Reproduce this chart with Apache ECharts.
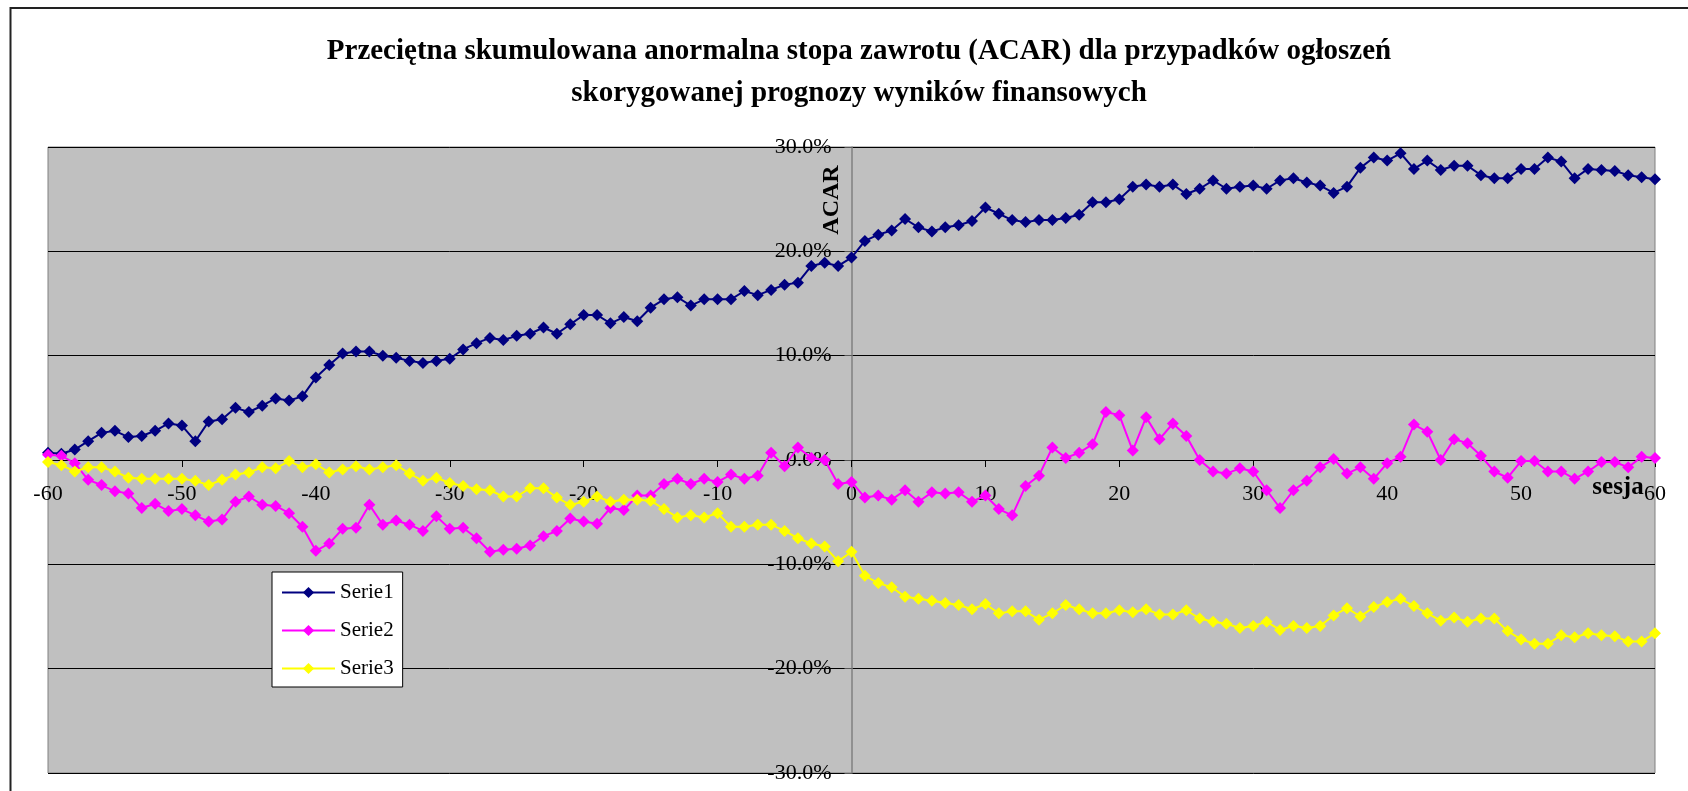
<!DOCTYPE html>
<html>
<head>
<meta charset="utf-8">
<script src="https://cdn.jsdelivr.net/npm/echarts@6/dist/echarts.min.js"></script>
<style>
    html, body { margin: 0; padding: 0; background: #fff; }
    #acar-chart-container { width: 1688px; height: 791px; }
</style>
</head>
<body>
<div id="acar-chart-container"></div>
<script>
// sesja (event day)
var sessions = [
    -60, -59, -58, -57, -56, -55, -54, -53, -52, -51, -50, -49, -48, -47, -46, -45, -44, -43, -42, -41,
    -40, -39, -38, -37, -36, -35, -34, -33, -32, -31, -30, -29, -28, -27, -26, -25, -24, -23, -22, -21,
    -20, -19, -18, -17, -16, -15, -14, -13, -12, -11, -10, -9, -8, -7, -6, -5, -4, -3, -2, -1,
    0, 1, 2, 3, 4, 5, 6, 7, 8, 9, 10, 11, 12, 13, 14, 15, 16, 17, 18, 19,
    20, 21, 22, 23, 24, 25, 26, 27, 28, 29, 30, 31, 32, 33, 34, 35, 36, 37, 38, 39,
    40, 41, 42, 43, 44, 45, 46, 47, 48, 49, 50, 51, 52, 53, 54, 55, 56, 57, 58, 59, 60
];

// ACAR in %
var serie1 = [
    0.7, 0.6, 1.0, 1.8, 2.6, 2.8, 2.2, 2.3, 2.8, 3.5, 3.3, 1.8, 3.7, 3.9, 5.0, 4.6, 5.2, 5.9, 5.7, 6.1,
    7.9, 9.1, 10.2, 10.4, 10.4, 10.0, 9.8, 9.5, 9.3, 9.5, 9.7, 10.6, 11.2, 11.7, 11.5, 11.9, 12.1, 12.7, 12.1, 13.0,
    13.9, 13.9, 13.1, 13.7, 13.3, 14.6, 15.4, 15.6, 14.8, 15.4, 15.4, 15.4, 16.2, 15.8, 16.3, 16.8, 17.0, 18.6, 18.9, 18.6,
    19.4, 21.0, 21.6, 22.0, 23.1, 22.3, 21.9, 22.3, 22.5, 22.9, 24.2, 23.6, 23.0, 22.8, 23.0, 23.0, 23.2, 23.5, 24.7, 24.7,
    25.0, 26.2, 26.4, 26.2, 26.4, 25.5, 26.0, 26.8, 26.0, 26.2, 26.3, 26.0, 26.8, 27.0, 26.6, 26.3, 25.6, 26.2, 28.0, 29.0,
    28.7, 29.4, 27.9, 28.7, 27.8, 28.2, 28.2, 27.3, 27.0, 27.0, 27.9, 27.9, 29.0, 28.6, 27.0, 27.9, 27.8, 27.7, 27.3, 27.1, 26.9
];
var serie2 = [
    0.5, 0.4, -0.3, -1.9, -2.4, -3.0, -3.2, -4.6, -4.2, -4.9, -4.7, -5.3, -5.9, -5.7, -4.0, -3.5, -4.3, -4.4, -5.1, -6.4,
    -8.7, -8.0, -6.6, -6.5, -4.3, -6.2, -5.8, -6.2, -6.8, -5.4, -6.6, -6.5, -7.5, -8.8, -8.6, -8.5, -8.2, -7.3, -6.8, -5.6,
    -5.9, -6.1, -4.6, -4.8, -3.4, -3.4, -2.3, -1.8, -2.3, -1.8, -2.1, -1.4, -1.8, -1.5, 0.7, -0.6, 1.2, 0.2, 0.0, -2.3,
    -2.1, -3.6, -3.4, -3.8, -2.9, -4.0, -3.1, -3.2, -3.1, -4.0, -3.4, -4.7, -5.3, -2.5, -1.5, 1.2, 0.2, 0.7, 1.5, 4.6,
    4.3, 0.9, 4.1, 2.0, 3.5, 2.3, 0.0, -1.1, -1.3, -0.8, -1.1, -2.9, -4.6, -2.9, -2.0, -0.7, 0.1, -1.3, -0.7, -1.8,
    -0.3, 0.3, 3.4, 2.7, 0.0, 2.0, 1.6, 0.4, -1.1, -1.7, -0.1, -0.1, -1.1, -1.1, -1.8, -1.1, -0.2, -0.2, -0.7, 0.3, 0.2
];
var serie3 = [
    -0.2, -0.5, -1.1, -0.7, -0.7, -1.1, -1.7, -1.8, -1.8, -1.8, -1.8, -2.0, -2.4, -1.9, -1.4, -1.2, -0.7, -0.8, -0.1, -0.7,
    -0.4, -1.2, -0.9, -0.6, -0.9, -0.7, -0.5, -1.3, -2.0, -1.7, -2.2, -2.5, -2.8, -2.9, -3.5, -3.5, -2.7, -2.7, -3.6, -4.3,
    -4.0, -3.5, -4.0, -3.8, -3.8, -3.9, -4.7, -5.5, -5.3, -5.5, -5.1, -6.4, -6.4, -6.2, -6.2, -6.8, -7.5, -8.0, -8.3, -9.7,
    -8.8, -11.1, -11.8, -12.2, -13.1, -13.3, -13.5, -13.7, -13.9, -14.3, -13.8, -14.7, -14.5, -14.5, -15.3, -14.7, -13.9, -14.3, -14.7, -14.7,
    -14.4, -14.6, -14.3, -14.8, -14.8, -14.4, -15.2, -15.5, -15.7, -16.1, -15.9, -15.5, -16.3, -15.9, -16.1, -15.9, -14.9, -14.2, -15.0, -14.1,
    -13.6, -13.3, -14.0, -14.7, -15.4, -15.1, -15.5, -15.2, -15.2, -16.4, -17.2, -17.6, -17.6, -16.8, -17.0, -16.6, -16.8, -16.9, -17.4, -17.4, -16.6
];

var seriesNames = ['Serie1', 'Serie2', 'Serie3'];
var seriesColors = ['#000080', '#FF00FF', '#FFFF00'];

var titleText = 'Przeciętna skumulowana anormalna stopa zawrotu (ACAR) dla przypadków ogłoszeń\nskorygowanej prognozy wyników finansowych';

var AcarChart = function () {
    var fontFam = '"Liberation Serif", "Times New Roman", serif';

    // plot box (px) - axes cross at 0/0 in the middle of it
    var gridLeft = 48, gridRight = 33, gridTop = 147, gridBottom = 18;
    var plotW = 1688 - gridLeft - gridRight;
    var plotH = 791 - gridTop - gridBottom;

    var _pairs = function (vals) {
        var out = [];
        for (var i = 0; i < sessions.length; i++) {
            out.push([sessions[i], vals[i]]);
        }
        return out;
    };

    var _lineSeries = function (idx, vals) {
        return {
            name: seriesNames[idx],
            type: 'line',
            data: _pairs(vals),
            symbol: 'diamond',
            symbolSize: 12,
            showAllSymbol: true,
            lineStyle: { color: seriesColors[idx], width: 2 },
            itemStyle: { color: seriesColors[idx] },
            emphasis: { disabled: true },
            animation: false
        };
    };

    var _init = function () {
        var dom = document.getElementById('acar-chart-container');
        var chart = echarts.init(dom, null, { renderer: 'canvas' });

        var option = {
            backgroundColor: '#fff',
            animation: false,
            textStyle: { fontFamily: fontFam },
            graphic: [
                {
                    // outer chart frame
                    type: 'rect',
                    shape: { x: 10.5, y: 8, width: 1720, height: 820 },
                    style: { fill: 'none', stroke: '#222', lineWidth: 2 },
                    z: 100
                },
                {
                    type: 'text',
                    x: 859,
                    y: 31,
                    style: {
                        text: titleText,
                        font: 'bold 29px ' + fontFam,
                        align: 'center',
                        verticalAlign: 'top',
                        lineHeight: 42,
                        fill: '#000'
                    },
                    z: 100
                },
                {
                    type: 'text',
                    x: 832,
                    y: 200,
                    rotation: Math.PI / 2,
                    style: {
                        text: 'ACAR',
                        font: 'bold 24px ' + fontFam,
                        align: 'center',
                        verticalAlign: 'middle',
                        fill: '#000'
                    },
                    z: 100
                },
                {
                    type: 'text',
                    x: 1618,
                    y: 488,
                    style: {
                        text: 'sesja',
                        font: 'bold 25px ' + fontFam,
                        align: 'center',
                        verticalAlign: 'middle',
                        fill: '#000'
                    },
                    z: 100
                }
            ],
            legend: {
                data: seriesNames,
                orient: 'vertical',
                left: 272,
                top: 572,
                padding: [10, 9, 8, 9],
                itemWidth: 53,
                itemHeight: 14,
                itemGap: 17,
                backgroundColor: '#fff',
                borderColor: '#000',
                borderWidth: 1,
                borderRadius: 0,
                selectedMode: false,
                textStyle: { fontFamily: fontFam, fontSize: 21, color: '#000' }
            },
            grid: {
                left: gridLeft,
                right: gridRight,
                top: gridTop,
                bottom: gridBottom,
                containLabel: false,
                outerBoundsMode: 'none',
                show: true,
                backgroundColor: '#C0C0C0',
                borderColor: '#808080',
                borderWidth: 1
            },
            xAxis: {
                type: 'value',
                min: -60,
                max: 60,
                interval: 10,
                position: 'bottom',
                // move the axis up to the 0% line
                offset: -plotH / 2,
                axisLine: { onZero: false, lineStyle: { color: '#000', width: 1 } },
                axisTick: { show: true, inside: false, length: 7, lineStyle: { color: '#000' } },
                axisLabel: {
                    show: true,
                    margin: 23,
                    fontFamily: fontFam,
                    fontSize: 22,
                    color: '#000',
                    showMinLabel: true,
                    showMaxLabel: true
                },
                splitLine: { show: false }
            },
            yAxis: {
                type: 'value',
                min: -30,
                max: 30,
                interval: 10,
                position: 'left',
                // move the axis right to session 0
                offset: -plotW / 2,
                axisLine: { show: true, onZero: false, lineStyle: { color: '#808080', width: 1.5 } },
                axisTick: { show: true, inside: false, length: 7, lineStyle: { color: '#555' } },
                axisLabel: {
                    margin: 20,
                    fontFamily: fontFam,
                    fontSize: 22,
                    color: '#000',
                    showMinLabel: true,
                    showMaxLabel: true,
                    formatter: function (v) { return v.toFixed(1) + '%'; }
                },
                splitLine: { show: true, lineStyle: { color: '#000', width: 1 } }
            },
            series: [
                _lineSeries(0, serie1),
                _lineSeries(1, serie2),
                _lineSeries(2, serie3)
            ]
        };

        chart.setOption(option);
        window.addEventListener('resize', chart.resize);
    };

    return {
        init: function () {
            _init();
        }
    };
}();

document.addEventListener('DOMContentLoaded', function () {
    AcarChart.init();
});
</script>
</body>
</html>
